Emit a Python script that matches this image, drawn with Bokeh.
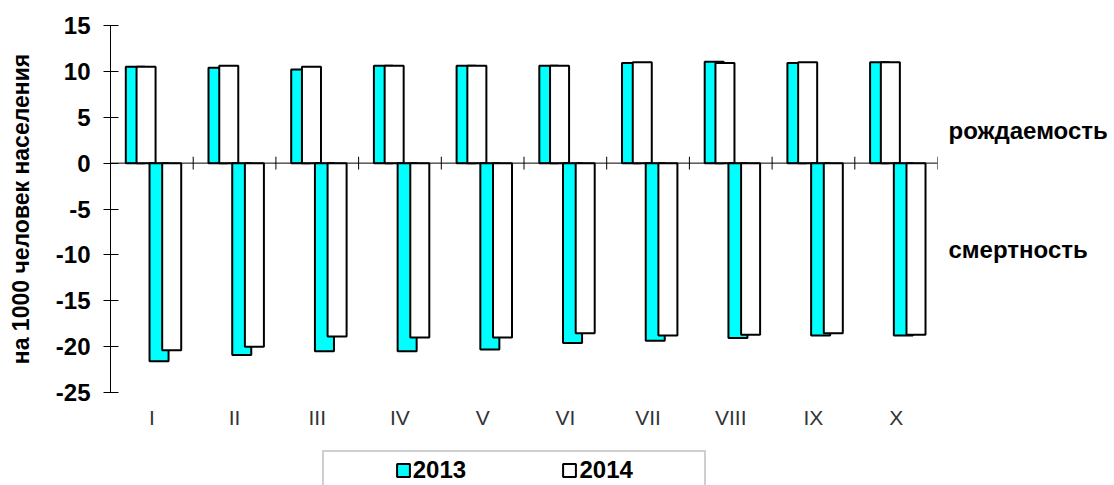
import numpy as np
from bokeh.plotting import figure
from bokeh.layouts import column
from bokeh.models import (ColumnDataSource, Range1d, FixedTicker, Span, Legend,
                          LegendItem, LinearAxis)
from bokeh.transform import dodge
from bokeh.embed import file_html
from bokeh.resources import INLINE

months = ["I", "II", "III", "IV", "V", "VI", "VII", "VIII", "IX", "X"]
birth_2013 = [10.5, 10.4, 10.2, 10.6, 10.6, 10.6, 10.9, 11.05, 10.9, 11.0]
birth_2014 = [10.5, 10.6, 10.5, 10.6, 10.6, 10.6, 11.0, 10.9, 11.0, 11.0]
death_2013 = [-21.6, -20.9, -20.5, -20.5, -20.3, -19.6, -19.35, -19.05, -18.8, -18.8]
death_2014 = [-20.4, -20.0, -18.9, -19.0, -19.0, -18.55, -18.8, -18.7, -18.55, -18.7]
y_ticks = [-25, -20, -15, -10, -5, 0, 5, 10, 15]
side_labels = ["рождаемость", "смертность"]
side_label_pos = [3.6, -9.45]
series_names = ["2013", "2014"]

FONT = "Liberation Sans"
CYAN = "#00FFFF"
NB = "\u00a0"

xs = np.arange(len(months)) + 0.5
src = ColumnDataSource(dict(x=xs, b13=birth_2013, b14=birth_2014,
                            d13=death_2013, d14=death_2014))

p = figure(width=1114, height=450, output_backend="svg", toolbar_location=None,
           x_range=Range1d(0, len(months)), y_range=Range1d(-25, 15),
           min_border_left=110, min_border_right=177, min_border_top=25,
           min_border_bottom=58)
p.outline_line_color = None
p.xgrid.grid_line_color = None
p.ygrid.grid_line_color = None
p.background_fill_color = "white"
p.border_fill_color = "white"

w = 0.23
p.vbar(x=dodge("x", -0.2, range=p.x_range), top="b13", bottom=0, width=w,
       source=src, fill_color=CYAN, line_color="black", line_width=2)
p.vbar(x=dodge("x", -0.07, range=p.x_range), top="b14", bottom=0, width=w,
       source=src, fill_color="white", line_color="black", line_width=2)
p.vbar(x=dodge("x", 0.087, range=p.x_range), top=0, bottom="d13", width=w,
       source=src, fill_color=CYAN, line_color="black", line_width=2)
p.vbar(x=dodge("x", 0.24, range=p.x_range), top=0, bottom="d14", width=w,
       source=src, fill_color="white", line_color="black", line_width=2)

# zero line with category separator ticks
p.add_layout(Span(location=0, dimension="width", line_color="black", line_width=1))
bounds = np.arange(1, len(months) + 1)
p.segment(x0=bounds, y0=-0.7, x1=bounds, y1=0.7, line_color="black", line_width=1)

# y axis
ya = p.yaxis[0]
ya.ticker = FixedTicker(ticks=y_ticks)
ya.major_label_overrides = {t: str(t) for t in y_ticks}
ya.minor_tick_line_color = None
ya.major_tick_in = 8
ya.major_tick_out = 7
ya.axis_line_color = "black"
ya.major_tick_line_color = "black"
ya.major_label_text_font = FONT
ya.major_label_text_font_style = "bold"
ya.major_label_text_font_size = "24px"
ya.major_label_text_color = "black"
ya.major_label_standoff = 13
ya.axis_label = "на 1000 человек населения"
ya.axis_label_text_font = FONT
ya.axis_label_text_font_style = "bold"
ya.axis_label_text_font_size = "23px"
ya.axis_label_text_color = "black"
ya.axis_label_standoff = 19

# right-hand category labels (as an axis without line/ticks)
ra = LinearAxis(ticker=FixedTicker(ticks=side_label_pos),
                major_label_overrides={float(v): t for v, t in zip(side_label_pos, side_labels)})
ra.axis_line_color = None
ra.major_tick_line_color = None
ra.minor_tick_line_color = None
ra.major_tick_in = 0
ra.major_tick_out = 0
ra.major_label_standoff = 11
ra.major_label_text_font = FONT
ra.major_label_text_font_style = "bold"
ra.major_label_text_font_size = "24px"
ra.major_label_text_color = "black"
p.add_layout(ra, "right")

# x axis (labels only)
xa = p.xaxis[0]
xa.ticker = FixedTicker(ticks=list(xs))
xa.major_label_overrides = {float(v): m for v, m in zip(xs, months)}
xa.axis_line_color = None
xa.major_tick_line_color = None
xa.minor_tick_line_color = None
xa.major_tick_out = 0
xa.major_tick_in = 0
xa.major_label_standoff = 13
xa.major_label_text_font = FONT
xa.major_label_text_font_size = "21px"
xa.major_label_text_color = "#333333"

# legend strip below the chart (its frame is aligned with the chart's frame)
lg = figure(width=1114, height=35, output_backend="svg", toolbar_location=None,
            x_axis_location=None, y_axis_location=None,
            min_border_left=0, min_border_right=0, min_border_top=0, min_border_bottom=0,
            x_range=Range1d(0, 1), y_range=Range1d(0, 1))
lg.outline_line_color = None
lg.xgrid.grid_line_color = None
lg.ygrid.grid_line_color = None
dummy = lg.vbar(x=[0.5], bottom=[5], top=[6], width=0.1, fill_alpha=0, line_alpha=0)
g13 = lg.vbar(x=[0.5], bottom=[5], top=[6], width=0.1, fill_color=CYAN,
              line_color="black", line_width=2)
g14 = lg.vbar(x=[0.5], bottom=[5], top=[6], width=0.1, fill_color="white",
              line_color="black", line_width=2)
legend = Legend(items=[
    LegendItem(label=NB * 7, renderers=[dummy]),
    LegendItem(label=series_names[0] + NB * 14, renderers=[g13]),
    LegendItem(label=series_names[1] + NB * 10, renderers=[g14]),
], orientation="horizontal", location=(212, -5), padding=4, spacing=2,
    glyph_width=16, glyph_height=16, label_standoff=2,
    label_text_font=FONT, label_text_font_style="bold", label_text_font_size="24px",
    label_text_color="black", border_line_color="#a0a0a0", border_line_width=2,
    background_fill_color="white", background_fill_alpha=1.0, margin=0)
lg.add_layout(legend, "center")

open("out.html", "w").write(file_html(column(p, lg, spacing=0), INLINE))
